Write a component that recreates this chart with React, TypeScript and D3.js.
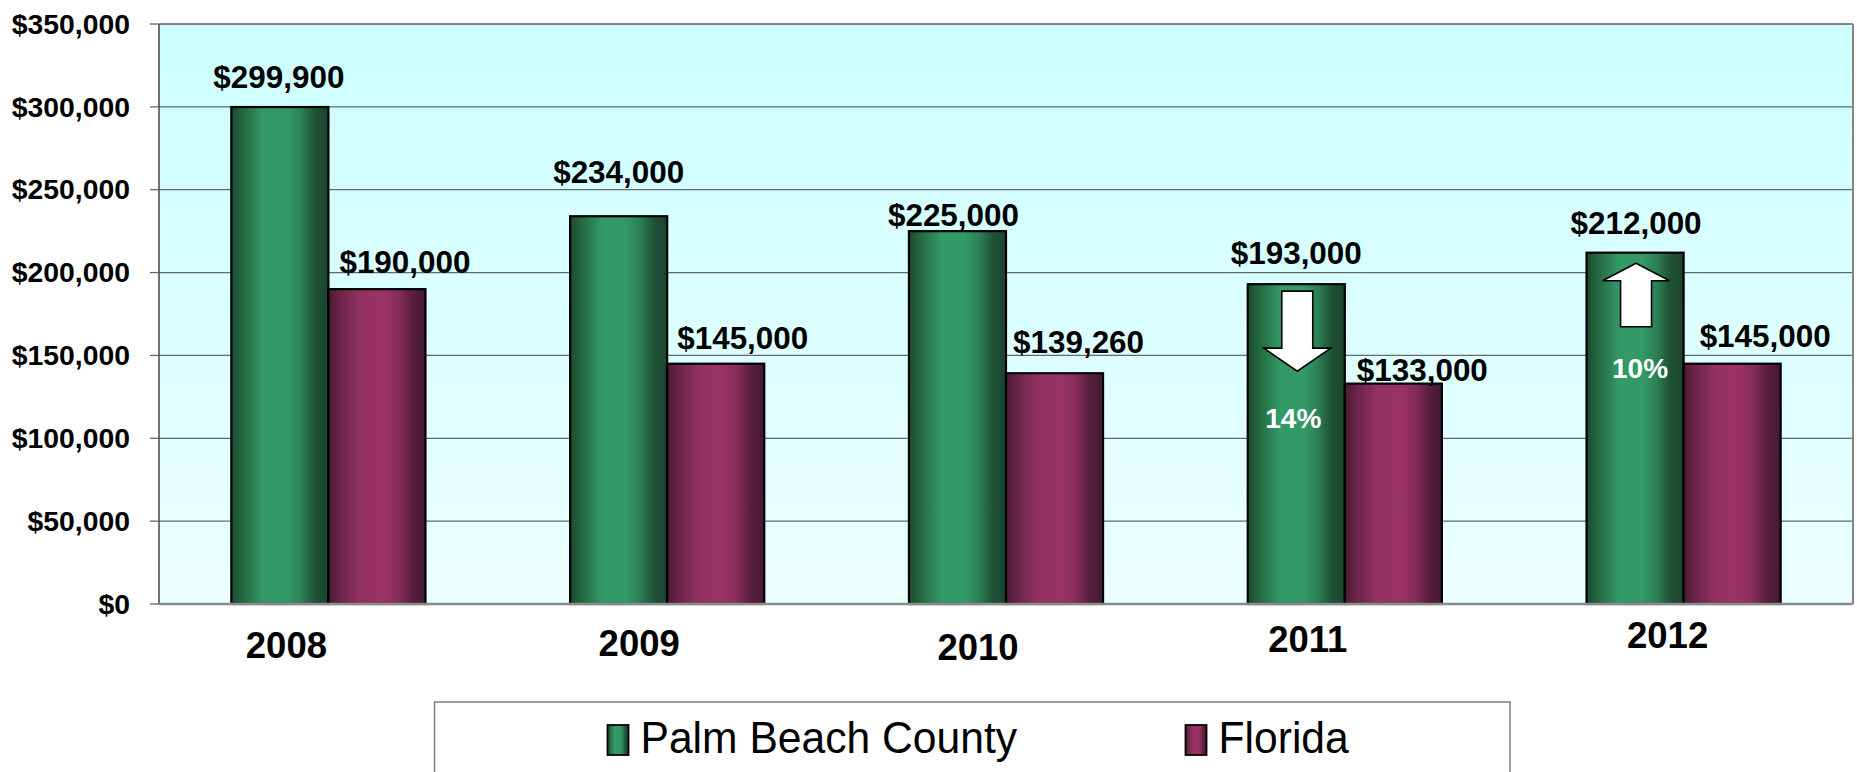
import React from "react";
import * as d3 from "d3";

const years = ["2008", "2009", "2010", "2011", "2012"];
const seriesNames = ["Palm Beach County", "Florida"];
const palmBeach = [299900, 234000, 225000, 193000, 212000];
const florida = [190000, 145000, 139260, 133000, 145000];
const yTicks = [0, 50000, 100000, 150000, 200000, 250000, 300000, 350000];
const changeYears = ["2011", "2012"];
const changeDirs = ["down", "up"];
const changeLabels = ["14%", "10%"];

// hand-placed label nudges of the original (relative to bar top / bar centre)
const pbLabelDx = [-1, 0, -4, 0, 1];
const pbLabelDy = [-19, -33, -5, -20, -19];
const flLabelDx = [28, 27, 24, 29, 33];
const flLabelDy = [-16, -15, -20, -3, -17];
const xLabelDx = [-42, -28, -28, -37, -16];
const xLabelDy = [0, -2, 2, -6, -10];

const W = 1857;
const H = 772;
const FONT = "'Liberation Sans', Arial, Helvetica, sans-serif";

const plotLeft = 159;
const plotRight = 1853;
const plotTop = 24;
const plotBottom = 604;

export default function App() {
  const x = d3
    .scaleBand<string>()
    .domain(years)
    .range([plotLeft, plotRight])
    .paddingInner(0.427)
    .paddingOuter(0.2135);
  const xs = d3
    .scaleBand<string>()
    .domain(seriesNames)
    .range([0, x.bandwidth()])
    .padding(0);
  const y = d3.scaleLinear().domain([0, 350000]).range([plotBottom, plotTop]);
  const fmt = d3.format("$,");

  const series = [
    { name: seriesNames[0], values: palmBeach, grad: "gGreen", dx: pbLabelDx, dy: pbLabelDy },
    { name: seriesNames[1], values: florida, grad: "gPurple", dx: flLabelDx, dy: flLabelDy },
  ];

  const stretch = (cx: number, cy: number, sx: number) =>
    `translate(${cx},${cy}) scale(${sx},1)`;

  return (
    <svg
      width={W}
      height={H}
      style={{ position: "absolute", left: 0, top: 0, display: "block" }}
      fontFamily={FONT}
    >
      <defs>
        <linearGradient id="bg" x1="0" y1="0" x2="0" y2="1">
          <stop offset="0" stopColor="#CCFFFF" />
          <stop offset="1" stopColor="#EBFFFF" />
        </linearGradient>
        <linearGradient id="gGreen" x1="0" y1="0" x2="1" y2="0">
          <stop offset="0" stopColor="#1B4A31" />
          <stop offset="0.12" stopColor="#24683F" />
          <stop offset="0.33" stopColor="#339966" />
          <stop offset="0.58" stopColor="#339966" />
          <stop offset="0.72" stopColor="#2C8057" />
          <stop offset="0.86" stopColor="#1E5236" />
          <stop offset="1" stopColor="#1B432F" />
        </linearGradient>
        <linearGradient id="gPurple" x1="0" y1="0" x2="1" y2="0">
          <stop offset="0" stopColor="#4A1B33" />
          <stop offset="0.12" stopColor="#6A2548" />
          <stop offset="0.33" stopColor="#933262" />
          <stop offset="0.58" stopColor="#993366" />
          <stop offset="0.72" stopColor="#862D59" />
          <stop offset="0.86" stopColor="#5A1F3D" />
          <stop offset="1" stopColor="#431A2F" />
        </linearGradient>
      </defs>

      <rect x={0} y={0} width={W} height={H} fill="#ffffff" />

      {/* plot area */}
      <rect
        x={plotLeft}
        y={plotTop}
        width={plotRight - plotLeft}
        height={plotBottom - plotTop}
        fill="url(#bg)"
      />

      {/* gridlines */}
      {yTicks.slice(1, -1).map((t) => (
        <line
          key={"g" + t}
          x1={plotLeft}
          x2={plotRight}
          y1={y(t)}
          y2={y(t)}
          stroke="#5F6B6B"
          strokeWidth={1.3}
        />
      ))}

      {/* frame */}
      <line x1={plotLeft} x2={plotRight} y1={plotTop} y2={plotTop} stroke="#858585" strokeWidth={2} />
      <line x1={plotRight} x2={plotRight} y1={plotTop} y2={plotBottom} stroke="#858585" strokeWidth={2} />
      <line x1={plotLeft} x2={plotLeft} y1={plotTop} y2={plotBottom} stroke="#444" strokeWidth={1.5} />

      {/* y ticks */}
      {yTicks.map((t) => (
        <g key={"t" + t}>
          <line x1={150} x2={plotLeft} y1={y(t)} y2={y(t)} stroke="#666" strokeWidth={1.3} />
          <text
            transform={stretch(130, y(t), 1.05)}
            dy="0.36em"
            textAnchor="end"
            fontSize={27}
            fontWeight="bold"
            fill="#000"
          >
            {fmt(t)}
          </text>
        </g>
      ))}

      {/* bars */}
      {series.map((s) =>
        years.map((yr, i) => {
          const bx = (x(yr) as number) + (xs(s.name) as number);
          const by = y(s.values[i]);
          return (
            <rect
              key={s.name + yr}
              x={bx}
              y={by}
              width={xs.bandwidth()}
              height={plotBottom - by}
              fill={`url(#${s.grad})`}
              stroke="#000"
              strokeWidth={2.2}
            />
          );
        })
      )}

      {/* x axis line */}
      <line x1={plotLeft} x2={plotRight} y1={plotBottom} y2={plotBottom} stroke="#8A8A8A" strokeWidth={2.5} />

      {/* value labels */}
      {series.map((s) =>
        years.map((yr, i) => {
          const cx = (x(yr) as number) + (xs(s.name) as number) + xs.bandwidth() / 2 + s.dx[i];
          const cy = y(s.values[i]) + s.dy[i];
          return (
            <text
              key={"l" + s.name + yr}
              transform={stretch(cx, cy, 1.03)}
              textAnchor="middle"
              fontSize={30.5}
              fontWeight="bold"
              fill="#000"
            >
              {fmt(s.values[i])}
            </text>
          );
        })
      )}

      {/* change arrows */}
      {changeYears.map((yr, k) => {
        const i = years.indexOf(yr);
        const cx = (x(yr) as number) + (xs(seriesNames[0]) as number) + xs.bandwidth() / 2 + 1;
        const top = y(palmBeach[i]);
        const sw = 15.5;
        const hw = 33.5;
        let d: string;
        let ty: number;
        if (changeDirs[k] === "down") {
          const y0 = top + 7;
          const yh = top + 64;
          const yt = top + 87;
          d = `M${cx - sw},${y0}H${cx + sw}V${yh}H${cx + hw}L${cx},${yt}L${cx - hw},${yh}H${cx - sw}Z`;
          ty = top + 144;
        } else {
          const yt = top + 10.5;
          const yh = top + 28;
          const yb = top + 74;
          d = `M${cx},${yt}L${cx + hw},${yh}H${cx + sw}V${yb}H${cx - sw}V${yh}H${cx - hw}Z`;
          ty = top + 125.5;
        }
        return (
          <g key={"a" + yr}>
            <path d={d} fill="#fff" stroke="#000" strokeWidth={1.6} strokeLinejoin="miter" />
            <text
              x={cx + (changeDirs[k] === "down" ? -4 : 4)}
              y={ty}
              textAnchor="middle"
              fontSize={28}
              fontWeight="bold"
              fill="#fff"
            >
              {changeLabels[k]}
            </text>
          </g>
        );
      })}

      {/* x labels */}
      {years.map((yr, i) => (
        <text
          key={"x" + yr}
          x={(x(yr) as number) + x.bandwidth() / 2 + xLabelDx[i]}
          y={658 + xLabelDy[i]}
          textAnchor="middle"
          fontSize={36.5}
          fontWeight="bold"
          fill="#000"
        >
          {yr}
        </text>
      ))}

      {/* legend */}
      <rect x={434.5} y={702} width={1075.5} height={110} fill="#fff" stroke="#7F7F7F" strokeWidth={1.5} />
      {series.map((s, k) => {
        const lx = k === 0 ? 607.5 : 1185.5;
        return (
          <g key={"lg" + s.name}>
            <rect x={lx} y={725} width={21} height={30} fill={`url(#${s.grad})`} stroke="#000" strokeWidth={1.8} />
            <text
              transform={`translate(${lx + 33},753) scale(1.015,1.04)`}
              fontSize={42}
              fill="#000"
            >
              {s.name}
            </text>
          </g>
        );
      })}
    </svg>
  );
}
